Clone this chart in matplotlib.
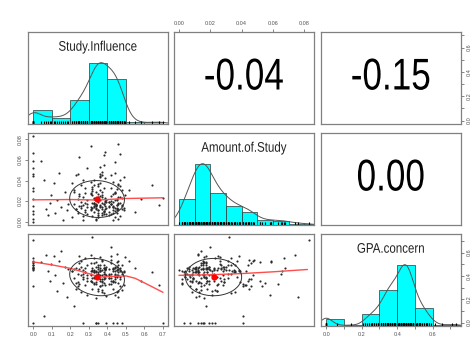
import numpy as np
import matplotlib

matplotlib.use("Agg")
import matplotlib.pyplot as plt
from matplotlib.patheffects import AbstractPathEffect
from matplotlib.transforms import Affine2D

plt.rcParams["font.family"] = ["Liberation Sans", "DejaVu Sans"]

var_names = ["Study.Influence", "Amount.of.Study", "GPA.concern"]

# one row per respondent (estimated off the scatter panels / histograms)
study_influence = [
    0.0, 0.0, 0.0, 0.0, 0.0, 0.0, 0.0, 0.0, 0.0, 0.0, 0.0, 0.0, 0.0, 0.0,
    0.04, 0.06, 0.07, 0.08, 0.09, 0.095,
    0.11, 0.12, 0.13, 0.14, 0.15, 0.16, 0.17, 0.18, 0.19,
    0.21, 0.22, 0.22, 0.23, 0.23, 0.24, 0.24, 0.25, 0.25, 0.25,
    0.26, 0.26, 0.26, 0.27, 0.27, 0.27, 0.27, 0.28, 0.28, 0.28,
    0.28, 0.29, 0.29, 0.29, 0.29, 0.21, 0.23, 0.25, 0.27, 0.29,
    0.22, 0.24, 0.26, 0.28,
    0.31, 0.31, 0.32, 0.32, 0.32, 0.33, 0.33, 0.33, 0.33, 0.34,
    0.34, 0.34, 0.34, 0.35, 0.35, 0.35, 0.35, 0.35, 0.36, 0.36,
    0.36, 0.36, 0.36, 0.37, 0.37, 0.37, 0.37, 0.38, 0.38, 0.38,
    0.38, 0.39, 0.39, 0.39, 0.395, 0.395, 0.31, 0.32, 0.33, 0.34,
    0.35, 0.36, 0.37, 0.38, 0.39, 0.31, 0.32, 0.33, 0.34, 0.35,
    0.36, 0.37, 0.38, 0.39, 0.395, 0.31, 0.33, 0.35, 0.37, 0.39,
    0.32, 0.34, 0.36, 0.38, 0.395, 0.31, 0.33, 0.35, 0.37, 0.39,
    0.32, 0.34, 0.36, 0.38, 0.35, 0.33, 0.37, 0.34, 0.36, 0.35,
    0.33, 0.37, 0.39, 0.31, 0.38, 0.36, 0.34,
    0.41, 0.41, 0.42, 0.42, 0.42, 0.43, 0.43, 0.43, 0.44, 0.44,
    0.44, 0.45, 0.45, 0.45, 0.46, 0.46, 0.46, 0.47, 0.47, 0.48,
    0.48, 0.49, 0.49, 0.495, 0.41, 0.42, 0.43, 0.44, 0.45, 0.46,
    0.47, 0.48, 0.41, 0.43, 0.45, 0.47, 0.49, 0.42, 0.44, 0.46,
    0.48, 0.41, 0.43, 0.45, 0.47, 0.42, 0.44, 0.46, 0.43, 0.45,
    0.41, 0.44, 0.47, 0.42, 0.45, 0.48, 0.43, 0.46, 0.44, 0.45,
    0.42, 0.44, 0.46, 0.43,
    0.52, 0.55, 0.58,
    0.64, 0.68, 0.70,
]

amount_of_study = [
    0.083, 0.067, 0.059, 0.052, 0.046, 0.044, 0.033, 0.030, 0.022, 0.015, 0.010, 0.007, 0.003, 0.000,
    0.059, 0.041, 0.012, 0.006, 0.018, 0.026,
    0.038, 0.008, 0.021, 0.047, 0.014, 0.002, 0.029, 0.011, 0.017,
    0.004, 0.017, 0.031, 0.012, 0.045, 0.022, 0.008, 0.015, 0.027, 0.063,
    0.013, 0.036, 0.019, 0.002, 0.024, 0.041, 0.016, 0.011, 0.033, 0.028,
    0.018, 0.007, 0.052, 0.014, 0.021, 0.038, 0.012, 0.025, 0.005, 0.017,
    0.029, 0.046, 0.015, 0.009,
    0.012, 0.027, 0.005, 0.018, 0.034, 0.015, 0.009, 0.022, 0.041, 0.016,
    0.013, 0.029, 0.003, 0.019, 0.037, 0.011, 0.024, 0.008, 0.016, 0.046,
    0.021, 0.014, 0.031, 0.006, 0.018, 0.026, 0.012, 0.055, 0.017, 0.033,
    0.010, 0.023, 0.015, 0.042, 0.007, 0.019, 0.028, 0.013, 0.036, 0.017,
    0.004, 0.025, 0.014, 0.065, 0.020, 0.011, 0.032, 0.018, 0.002, 0.027,
    0.015, 0.048, 0.009, 0.022, 0.013, 0.039, 0.017, 0.006, 0.024, 0.012,
    0.030, 0.016, 0.044, 0.010, 0.021, 0.074, 0.014, 0.035, 0.008, 0.019,
    0.026, 0.012, 0.053, 0.017, 0.004, 0.023, 0.045, 0.015, 0.038, 0.011,
    0.018, 0.029, 0.068, 0.014, 0.007, 0.043, 0.016,
    0.014, 0.006, 0.025, 0.017, 0.033, 0.011, 0.002, 0.019, 0.028, 0.047,
    0.013, 0.021, 0.008, 0.016, 0.037, 0.012, 0.024, 0.018, 0.005, 0.031,
    0.015, 0.043, 0.011, 0.026, 0.019, 0.007, 0.014, 0.058, 0.022, 0.017,
    0.035, 0.012, 0.009, 0.027, 0.016, 0.041, 0.013, 0.020, 0.004, 0.018,
    0.023, 0.015, 0.039, 0.011, 0.066, 0.017, 0.029, 0.003, 0.014, 0.032,
    0.019, 0.010, 0.024, 0.045, 0.013, 0.016, 0.008, 0.036, 0.021, 0.012,
    0.017, 0.028, 0.076, 0.015,
    0.031, 0.009, 0.022,
    0.036, 0.016, 0.023,
]

gpa_concern = [
    0.71, 0.55, 0.53, 0.52, 0.51, 0.49, 0.49, 0.48, 0.47, 0.47, 0.46, 0.31, 0.0, 0.45,
    0.52, 0.06, 0.58, 0.44, 0.36, 0.505,
    0.57, 0.41, 0.27, 0.53, 0.61, 0.34, 0.48, 0.22, 0.46,
    0.44, 0.14, 0.38, 0.47, 0.29, 0.42, 0.35, 0.51, 0.46, 0.33,
    0.41, 0.26, 0.48, 0.37, 0.45, 0.0, 0.39, 0.43, 0.55, 0.32,
    0.47, 0.405, 0.36, 0.49, 0.24, 0.44, 0.34, 0.57, 0.42, 0.38,
    0.46, 0.31, 0.53, 0.43,
    0.42, 0.36, 0.47, 0.29, 0.44, 0.51, 0.38, 0.45, 0.33, 0.41,
    0.48, 0.35, 0.43, 0.0, 0.39, 0.46, 0.27, 0.42, 0.56, 0.37,
    0.44, 0.31, 0.49, 0.41, 0.36, 0.53, 0.45, 0.34, 0.47, 0.25,
    0.43, 0.38, 0.46, 0.32, 0.0, 0.48, 0.41, 0.35, 0.44, 0.52,
    0.39, 0.47, 0.28, 0.42, 0.45, 0.36, 0.73, 0.43, 0.33, 0.49,
    0.41, 0.54, 0.37, 0.46, 0.23, 0.44, 0.39, 0.48, 0.32, 0.42,
    0.45, 0.0, 0.36, 0.47, 0.41, 0.58, 0.34, 0.43, 0.26, 0.46,
    0.38, 0.44, 0.31, 0.49, 0.42, 0.55, 0.37, 0.0, 0.45, 0.29,
    0.43, 0.35, 0.47, 0.51, 0.39, 0.44, 0.21,
    0.38, 0.46, 0.33, 0.51, 0.42, 0.29, 0.44, 0.36, 0.48, 0.41,
    0.35, 0.0, 0.45, 0.39, 0.53, 0.43, 0.27, 0.47, 0.37, 0.42,
    0.49, 0.32, 0.44, 0.56, 0.405, 0.36, 0.46, 0.24, 0.41, 0.34,
    0.45, 0.0, 0.38, 0.47, 0.52, 0.31, 0.43, 0.65, 0.39, 0.46,
    0.28, 0.42, 0.35, 0.48, 0.44, 0.57, 0.37, 0.41, 0.0, 0.45,
    0.33, 0.47, 0.39, 0.54, 0.26, 0.43, 0.36, 0.49, 0.42, 0.59,
    0.38, 0.44, 0.22, 0.46,
    0.53, 0.47, 0.36,
    0.43, 0.32, 0.0,
]

# correlations printed in the upper panels
cor_cells = [(0, 1), (0, 2), (1, 2)]
cor_values = [-0.04, -0.15, 0.00]

# histogram breaks
si_breaks = [0.0, 0.1, 0.2, 0.3, 0.4, 0.5, 0.6, 0.7]
as_breaks = [0.00, 0.01, 0.02, 0.03, 0.04, 0.05, 0.06, 0.07, 0.08, 0.09]
gpa_breaks = [0.0, 0.1, 0.2, 0.3, 0.4, 0.5, 0.6, 0.7, 0.8]

# axis ticks
si_ticks = [0.0, 0.1, 0.2, 0.3, 0.4, 0.5, 0.6, 0.7]
as_ticks = [0.00, 0.02, 0.04, 0.06, 0.08]
gpa_ticks = [0.0, 0.1, 0.2, 0.3, 0.4, 0.5, 0.6, 0.7]

# means / sds behind the correlation ellipses
var_means = [0.345, 0.022, 0.39]
var_sds = [0.148, 0.018, 0.16]

# red lowess traces in the lower panels
smooth_si_as_x = [0.0, 0.2, 0.35, 0.5, 0.7]
smooth_si_as_y = [0.0212, 0.0215, 0.0210, 0.0225, 0.0232]
smooth_si_gpa_x = [0.0, 0.1, 0.2, 0.3, 0.36, 0.42, 0.5, 0.55, 0.62, 0.70]
smooth_si_gpa_y = [0.52, 0.495, 0.465, 0.42, 0.39, 0.395, 0.40, 0.38, 0.325, 0.26]
smooth_as_gpa_x = [0.0, 0.02, 0.04, 0.06, 0.082]
smooth_as_gpa_y = [0.405, 0.41, 0.42, 0.435, 0.455]

data = [np.array(study_influence), np.array(amount_of_study), np.array(gpa_concern)]
assert len(data[0]) == len(data[1]) == len(data[2])
breaks = [si_breaks, as_breaks, gpa_breaks]
fmts = ["{:.1f}", "{:.2f}", "{:.1f}"]
smooths = {
    (1, 0): (smooth_si_as_x, smooth_si_as_y),
    (2, 0): (smooth_si_gpa_x, smooth_si_gpa_y),
    (2, 1): (smooth_as_gpa_x, smooth_as_gpa_y),
}

lims = []
for v in data:
    pad = 0.04 * (v.max() - v.min())
    lims.append((v.min() - pad, v.max() + pad))

GRAY = "#555555"


class Squeeze(AbstractPathEffect):
    """Draw the glyphs narrower (the source image is squashed sideways)."""

    def __init__(self, sx):
        super().__init__()
        self.sx = sx

    def draw_path(self, renderer, gc, tpath, affine, rgbFace=None):
        xs = tpath.vertices[:, 0]
        cx = 0.5 * (xs.min() + xs.max()) if len(xs) else 0.0
        squeeze = Affine2D().translate(-cx, 0).scale(self.sx, 1).translate(cx, 0)
        renderer.draw_path(gc, tpath, squeeze + affine, rgbFace)


def density_curve(v):
    n = len(v)
    iqr = np.percentile(v, 75) - np.percentile(v, 25)
    bw = 1.06 * min(v.std(ddof=1), iqr / 1.34) * n ** -0.2
    grid = np.linspace(v.min() - 3 * bw, v.max() + 3 * bw, 512)
    dens = np.exp(-0.5 * ((grid[:, None] - v[None, :]) / bw) ** 2).sum(axis=1)
    return grid, dens / dens.max()


def set_axis(axis, vals, fmt, every=1):
    labels = [fmt.format(t) if i % every == 0 else "" for i, t in enumerate(vals)]
    axis.set_ticks(vals)
    axis.set_ticklabels(labels)


def tick_style(ax):
    ax.tick_params(which="both", length=2.5, width=0.5, color=GRAY,
                   labelsize=4, labelcolor=GRAY, pad=1.5)


fig = plt.figure(figsize=(4.74, 3.39), dpi=100)
W, H = 474.0, 339.0
col_left = [28, 174, 321]
row_top = [32, 133, 234]
pw, ph = 140, 92

axes = {}
for r in range(3):
    for c in range(3):
        ax = fig.add_axes([col_left[c] / W, 1 - (row_top[r] + ph) / H, pw / W, ph / H])
        for s in ax.spines.values():
            s.set_color("#808080")
            s.set_linewidth(0.9)
        ax.set_xticks([])
        ax.set_yticks([])
        tick_style(ax)
        axes[r, c] = ax

# diagonal: histogram, density, rug, name
for i in range(3):
    ax = axes[i, i]
    v = data[i]
    counts, edges = np.histogram(v, bins=breaks[i])
    ax.bar(edges[:-1], counts / counts.max(), width=np.diff(edges), align="edge",
           color="#00ffff", edgecolor="#333333", linewidth=0.5)
    gx, gy = density_curve(v)
    ax.plot(gx, gy, color=GRAY, lw=0.7)
    ax.vlines(v, 0, 0.055, color="black", lw=0.8)
    ax.set_xlim(lims[i])
    ax.set_ylim(0, 1.5)
    t = ax.text(0.5, 0.84, var_names[i], transform=ax.transAxes, ha="center",
                va="center", fontsize=10, color="#222222")
    t.set_path_effects([Squeeze(0.83)])

# upper: correlations
for (r, c), val in zip(cor_cells, cor_values):
    ax = axes[r, c]
    ax.set_xlim(lims[c])
    ax.set_ylim(lims[r])
    t = ax.text(0.5, 0.5, f"{val:.2f}", transform=ax.transAxes, ha="center",
                va="center", fontsize=32, color="black")
    t.set_path_effects([Squeeze(0.79)])

# lower: scatter, smoother, ellipse
for r in range(3):
    for c in range(r):
        ax = axes[r, c]
        x, y = data[c], data[r]
        ax.scatter(x, y, s=2.4, color="#2a2a2a", linewidths=0, zorder=2)
        sx, sy = smooths[r, c]
        ax.plot(sx, sy, color="#ff4d4d", lw=1.0, zorder=3)
        rr = cor_values[cor_cells.index((c, r))]
        theta = (np.sign(rr) if rr != 0 else 1) / np.sqrt(2)
        shape = np.diag([np.sqrt(1 + rr), np.sqrt(1 - rr)]) @ np.array([[theta, theta], [-theta, theta]])
        ang = np.linspace(0, 2 * np.pi, 52)
        ell = np.column_stack([np.cos(ang), np.sin(ang)]) @ shape
        ax.plot(ell[:, 0] * var_sds[c] + var_means[c], ell[:, 1] * var_sds[r] + var_means[r],
                color="#333333", lw=0.7, zorder=3)
        ax.plot(var_means[c], var_means[r], "o", color="red", ms=3.5, zorder=4)
        ax.set_xlim(lims[c])
        ax.set_ylim(lims[r])

# outer axes
ax = axes[0, 1]
ax.xaxis.tick_top()
set_axis(ax.xaxis, as_ticks, fmts[1])

ax = axes[2, 0]
set_axis(ax.xaxis, si_ticks, fmts[0])

ax = axes[2, 2]
set_axis(ax.xaxis, gpa_ticks, fmts[2], every=2)

ax = axes[1, 0]
set_axis(ax.yaxis, as_ticks, fmts[1])
plt.setp(ax.get_yticklabels(), rotation=90, va="center")

ax = axes[0, 2]
ax.yaxis.tick_right()
set_axis(ax.yaxis, si_ticks, fmts[0], every=2)
plt.setp(ax.get_yticklabels(), rotation=90, va="center")

ax2 = axes[2, 2].twinx()
ax2.set_ylim(lims[2])
for s in ax2.spines.values():
    s.set_visible(False)
tick_style(ax2)
set_axis(ax2.yaxis, gpa_ticks, fmts[2], every=2)
plt.setp(ax2.get_yticklabels(), rotation=90, va="center")

fig.savefig("out.png", dpi=100)
